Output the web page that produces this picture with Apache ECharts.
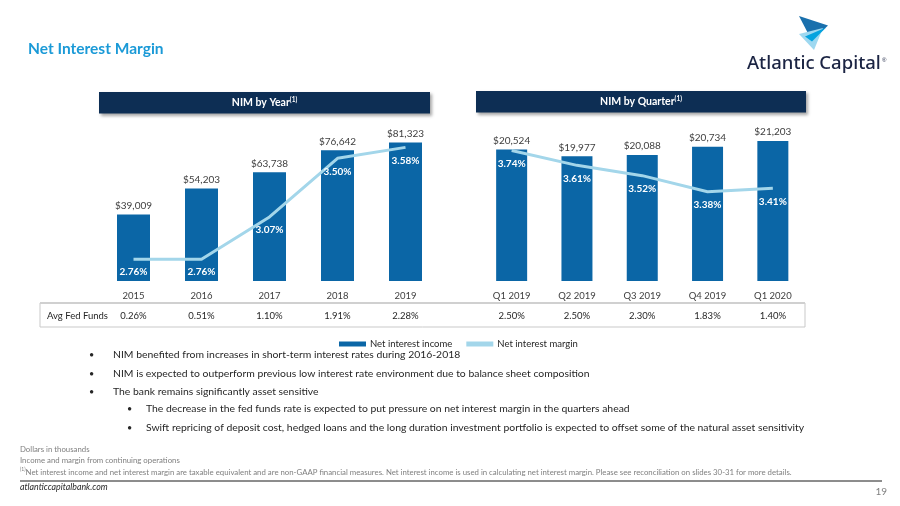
<!DOCTYPE html>
<html>
<head>
<meta charset="utf-8">
<script src="https://cdn.jsdelivr.net/npm/echarts@6/dist/echarts.min.js"></script>
<style>
html,body{margin:0;padding:0;background:#fff;}
#chart{width:900px;height:506px;}
</style>
</head>
<body>
<div id="chart"></div>
<script>
// ---- Data ----
const years = ['2015', '2016', '2017', '2018', '2019'];
const incomeYear = [39009, 54203, 63738, 76642, 81323];
const nimYear = [2.76, 2.76, 3.07, 3.50, 3.58];
const fedYear = ['0.26%', '0.51%', '1.10%', '1.91%', '2.28%'];

const quarters = ['Q1 2019', 'Q2 2019', 'Q3 2019', 'Q4 2019', 'Q1 2020'];
const incomeQuarter = [20524, 19977, 20088, 20734, 21203];
const nimQuarter = [3.74, 3.61, 3.52, 3.38, 3.41];
const fedQuarter = ['2.50%', '2.50%', '2.30%', '1.83%', '1.40%'];

const bullets = [
  'NIM benefited from increases in short-term interest rates during 2016-2018',
  'NIM is expected to outperform previous low interest rate environment due to balance sheet composition',
  'The bank remains significantly asset sensitive'
];
const subBullets = [
  'The decrease in the fed funds rate is expected to put pressure on net interest margin in the quarters ahead',
  'Swift repricing of deposit cost, hedged loans and the long duration investment portfolio is expected to offset some of the natural asset sensitivity'
];

// ---- Styles ----
const FONT = 'Lato, "Noto Sans", sans-serif';
const BAR = '#0b66a6';
const LINE = '#a3d6ea';
const NAVY = '#0d2e54';
const TXT = '#404040';

const chart = echarts.init(document.getElementById('chart'), null, {renderer: 'canvas'});

function barLabel() {
  return {show: true, position: 'top', distance: 4, color: TXT, fontSize: 10, fontFamily: FONT,
    formatter: p => '$' + p.value.toLocaleString('en-US')};
}
function lineLabel() {
  return {show: true, position: 'bottom', distance: 8, color: '#fff', fontWeight: 'bold', fontSize: 10, fontFamily: FONT,
    formatter: p => p.value.toFixed(2) + '%'};
}
function catAxis(grid, data, offset) {
  return {type: 'category', gridIndex: grid, data: data, position: 'bottom', offset: offset,
    axisLine: {show: false}, axisTick: {show: false}, splitLine: {show: false},
    axisLabel: {color: offset ? '#262626' : TXT, fontSize: 9.5, fontFamily: FONT, margin: 10}};
}
function valAxis(grid, min, max) {
  return {type: 'value', gridIndex: grid, min: min, max: max, show: false, splitLine: {show: false}};
}

const graphics = [];
// Title
graphics.push({type: 'text', left: 28, top: 41, style: {text: 'Net Interest Margin', fill: '#1b9ad7', font: 'bold 15.5px ' + FONT}});
// Logo
graphics.push({type: 'polygon', shape: {points: [[799, 16], [828, 25.5], [812, 41]]}, style: {fill: '#1a70ad'}});
graphics.push({type: 'polygon', shape: {points: [[799, 34], [823, 28], [814, 50]]}, style: {fill: '#9ed8f0'}});
graphics.push({type: 'polygon', shape: {points: [[805, 36.5], [826, 27.5], [812, 41.5]]}, style: {fill: '#05a3df'}});
graphics.push({type: 'text', left: 747, top: 54, style: {text: 'Atlantic Capital', fill: '#1b2443', font: '500 18.5px "Noto Sans", sans-serif'}});
graphics.push({type: 'text', left: 882, top: 57, style: {text: '®', fill: '#1b2443', font: '6px sans-serif'}});
// Header bars
[[99, 92, 331, 'NIM by Year'], [476, 91, 330, 'NIM by Quarter']].forEach(h => {
  graphics.push({type: 'rect', shape: {x: h[0], y: h[1], width: h[2], height: 21.5},
    style: {fill: NAVY, shadowBlur: 3, shadowOffsetX: 2, shadowOffsetY: 2, shadowColor: 'rgba(0,0,0,0.35)'}});
  graphics.push({type: 'text', x: h[0] + h[2] / 2, y: h[1] + 11, style: {
    text: '{m|' + h[3] + '}{s|(1)}', align: 'center', verticalAlign: 'middle',
    rich: {m: {fill: '#fff', font: 'bold 10.5px ' + FONT, lineHeight: 14},
           s: {fill: '#fff', font: 'bold 6.5px ' + FONT, verticalAlign: 'top', lineHeight: 8}}}});
});
// Fed funds box
graphics.push({type: 'rect', shape: {x: 40, y: 303, width: 765, height: 24}, style: {fill: 'none', stroke: '#c9c9c9', lineWidth: 1}});
graphics.push({type: 'line', shape: {x1: 40, y1: 303, x2: 805, y2: 303}, style: {stroke: '#d0d0d0', lineWidth: 2}});
graphics.push({type: 'text', left: 47, top: 311, style: {text: 'Avg Fed Funds', fill: '#262626', font: '9.5px ' + FONT}});
// Bullets
const bulletY = [355, 374, 392];
bullets.forEach((b, i) => {
  graphics.push({type: 'text', x: 89, y: bulletY[i], style: {text: '•', fill: '#262626', font: '9px ' + FONT, verticalAlign: 'middle'}});
  graphics.push({type: 'text', x: 113, y: bulletY[i], style: {text: b, fill: '#262626', font: '10.4px ' + FONT, verticalAlign: 'middle'}});
});
const subY = [409, 428];
subBullets.forEach((b, i) => {
  graphics.push({type: 'text', x: 127, y: subY[i], style: {text: '•', fill: '#262626', font: '9px ' + FONT, verticalAlign: 'middle'}});
  graphics.push({type: 'text', x: 146, y: subY[i], style: {text: b, fill: '#262626', font: '10.4px ' + FONT, verticalAlign: 'middle'}});
});
// Footnotes
graphics.push({type: 'text', x: 20, y: 449, style: {text: 'Dollars in thousands', fill: '#7f7f7f', font: '7.8px ' + FONT, verticalAlign: 'middle'}});
graphics.push({type: 'text', x: 20, y: 460, style: {text: 'Income and margin from continuing operations', fill: '#7f7f7f', font: '7.8px ' + FONT, verticalAlign: 'middle'}});
graphics.push({type: 'text', x: 20, y: 472, style: {
  text: '{s|(1)}{m|Net interest income and net interest margin are taxable equivalent and are non-GAAP financial measures. Net interest income is used in calculating net interest margin. Please see reconciliation on slides 30-31 for more details.}',
  verticalAlign: 'middle',
  rich: {m: {fill: '#7f7f7f', font: '7.8px ' + FONT, lineHeight: 10},
         s: {fill: '#7f7f7f', font: '5px ' + FONT, verticalAlign: 'top', lineHeight: 6}}}});
graphics.push({type: 'line', shape: {x1: 20, y1: 481, x2: 882, y2: 481}, style: {stroke: '#1a1a1a', lineWidth: 1}});
graphics.push({type: 'text', x: 20, y: 487, style: {text: 'atlanticcapitalbank.com', fill: '#262626', font: 'italic 8.8px ' + FONT, verticalAlign: 'middle'}});
graphics.push({type: 'text', x: 887, y: 492, style: {text: '19', fill: '#7f7f7f', font: '10px ' + FONT, align: 'right', verticalAlign: 'middle'}});

const option = {
  animation: false,
  backgroundColor: '#fff',
  textStyle: {fontFamily: FONT},
  legend: {
    left: 334, top: 334, itemWidth: 27, itemHeight: 5, itemGap: 14,
    textStyle: {color: '#262626', fontSize: 9.5, fontFamily: FONT, padding: [0, 0, 0, -1]},
    data: [{name: 'Net interest income', icon: 'rect'}, {name: 'Net interest margin', icon: 'rect'}]
  },
  grid: [
    {left: 99.5, top: 131, width: 340, height: 150},
    {left: 479, top: 131, width: 326.5, height: 150}
  ],
  xAxis: [
    catAxis(0, years, 0),
    catAxis(1, quarters, 0),
    catAxis(0, fedYear, 20),
    catAxis(1, fedQuarter, 20)
  ],
  yAxis: [
    valAxis(0, 0, 88000),
    valAxis(0, 2.6, 3.7),
    valAxis(1, 10000, 22000),
    valAxis(1, 2.6, 3.91)
  ],
  series: [
    {name: 'Net interest income', type: 'bar', xAxisIndex: 0, yAxisIndex: 0, data: incomeYear,
      barWidth: 33, itemStyle: {color: BAR}, label: barLabel(), z: 2},
    {name: 'Net interest margin', type: 'line', xAxisIndex: 0, yAxisIndex: 1, data: nimYear,
      symbol: 'circle', symbolSize: 0.1, showSymbol: true, itemStyle: {color: LINE},
      lineStyle: {color: LINE, width: 3}, label: lineLabel(), z: 3},
    {name: 'Net interest income', type: 'bar', xAxisIndex: 1, yAxisIndex: 2, data: incomeQuarter,
      barWidth: 31, itemStyle: {color: BAR}, label: barLabel(), z: 2},
    {name: 'Net interest margin', type: 'line', xAxisIndex: 1, yAxisIndex: 3, data: nimQuarter,
      symbol: 'circle', symbolSize: 0.1, showSymbol: true, itemStyle: {color: LINE},
      lineStyle: {color: LINE, width: 3}, label: lineLabel(), z: 3}
  ],
  graphic: graphics
};
chart.setOption(option);
</script>
</body>
</html>
